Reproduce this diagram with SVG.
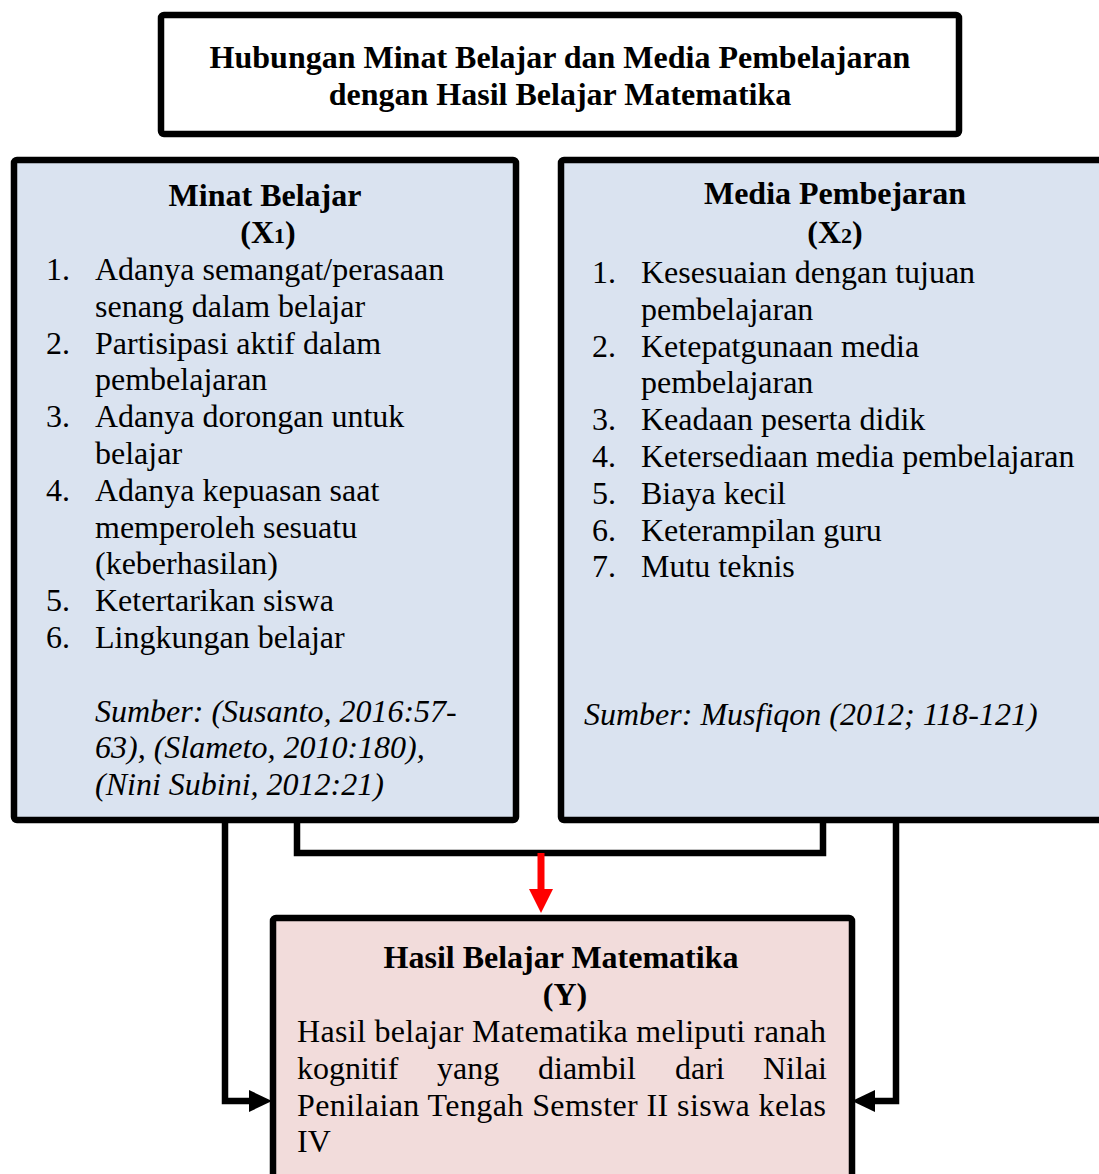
<svg xmlns="http://www.w3.org/2000/svg" width="1099" height="1174" viewBox="0 0 1099 1174">
<style>
.box{stroke:#000;stroke-width:6.5;stroke-linejoin:round}
.t{font-family:"Liberation Serif","Times New Roman",serif;font-size:32px;fill:#000}
.b{font-weight:bold}
.i{font-style:italic}
.c{text-anchor:middle}
.con{fill:none;stroke:#000;stroke-width:6.5;stroke-linejoin:miter}
</style>
<defs>
<marker id="ah" markerUnits="userSpaceOnUse" markerWidth="26" markerHeight="26" refX="0" refY="12" orient="auto" viewBox="0 0 26 24">
<path d="M0,1 L23,12 L0,23 z" fill="#000"/>
</marker>
<marker id="ahr" markerUnits="userSpaceOnUse" markerWidth="26" markerHeight="26" refX="0" refY="12" orient="auto" viewBox="0 0 26 24">
<path d="M0,0 L24,12 L0,24 z" fill="#ff0000"/>
</marker>
</defs>
<rect width="1099" height="1174" fill="#fff"/>
<g id="connectors">
<path class="con" d="M297,817 V853 H823 V817"/>
<path d="M541,853 V889" fill="none" stroke="#ff0000" stroke-width="7" marker-end="url(#ahr)"/>
<path class="con" d="M225,817 V1101 H249" marker-end="url(#ah)"/>
<path class="con" d="M896,817 V1101 H875" marker-end="url(#ah)"/>
</g>
<g id="title">
<rect class="box" x="161" y="15" width="798" height="119" rx="3" fill="#fff"/>
<text class="t b c" x="560" y="68">Hubungan Minat Belajar dan Media Pembelajaran</text>
<text class="t b c" x="560" y="105">dengan Hasil Belajar Matematika</text>
</g>
<g id="minat-belajar">
<rect class="box" x="14" y="160" width="502" height="660" rx="3" fill="#dae3f0"/>
<text class="t b c" x="265" y="206">Minat Belajar</text>
<text class="t b c" x="268" y="243">(X<tspan font-size="22">1</tspan>)</text>
<text class="t" x="46" y="280">1.</text><text class="t" x="95" y="280">Adanya semangat/perasaan</text>
<text class="t" x="95" y="316.8">senang dalam belajar</text>
<text class="t" x="46" y="353.6">2.</text><text class="t" x="95" y="353.6">Partisipasi aktif dalam</text>
<text class="t" x="95" y="390.4">pembelajaran</text>
<text class="t" x="46" y="427.2">3.</text><text class="t" x="95" y="427.2">Adanya dorongan untuk</text>
<text class="t" x="95" y="464">belajar</text>
<text class="t" x="46" y="500.8">4.</text><text class="t" x="95" y="500.8">Adanya kepuasan saat</text>
<text class="t" x="95" y="537.6">memperoleh sesuatu</text>
<text class="t" x="95" y="574.4">(keberhasilan)</text>
<text class="t" x="46" y="611.2">5.</text><text class="t" x="95" y="611.2">Ketertarikan siswa</text>
<text class="t" x="46" y="648">6.</text><text class="t" x="95" y="648">Lingkungan belajar</text>
<text class="t i" x="95" y="721.6">Sumber: (Susanto, 2016:57-</text>
<text class="t i" x="95" y="758.4">63), (Slameto, 2010:180),</text>
<text class="t i" x="95" y="795.2">(Nini Subini, 2012:21)</text>
</g>
<g id="media-pembelajaran">
<rect class="box" x="561" y="160" width="600" height="660" rx="3" fill="#dae3f0"/>
<text class="t b c" x="835" y="204">Media Pembejaran</text>
<text class="t b c" x="835" y="243">(X<tspan font-size="22">2</tspan>)</text>
<text class="t" x="592" y="283">1.</text><text class="t" x="641" y="283">Kesesuaian dengan tujuan</text>
<text class="t" x="641" y="319.8">pembelajaran</text>
<text class="t" x="592" y="356.6">2.</text><text class="t" x="641" y="356.6">Ketepatgunaan media</text>
<text class="t" x="641" y="393.4">pembelajaran</text>
<text class="t" x="592" y="430.2">3.</text><text class="t" x="641" y="430.2">Keadaan peserta didik</text>
<text class="t" x="592" y="467">4.</text><text class="t" x="641" y="467">Ketersediaan media pembelajaran</text>
<text class="t" x="592" y="503.8">5.</text><text class="t" x="641" y="503.8">Biaya kecil</text>
<text class="t" x="592" y="540.6">6.</text><text class="t" x="641" y="540.6">Keterampilan guru</text>
<text class="t" x="592" y="577.4">7.</text><text class="t" x="641" y="577.4">Mutu teknis</text>
<text class="t i" x="584" y="725">Sumber: Musfiqon (2012; 118-121)</text>
</g>
<g id="hasil-belajar">
<rect class="box" x="273" y="918" width="579" height="300" rx="3" fill="#f2dcdb"/>
<text class="t b c" x="561" y="968">Hasil Belajar Matematika</text>
<text class="t b c" x="565" y="1005">(Y)</text>
<text class="t" x="297" y="1042" textLength="529" lengthAdjust="spacing">Hasil belajar Matematika meliputi ranah</text>
<text class="t" y="1079"><tspan x="297">kognitif</tspan><tspan x="437">yang</tspan><tspan x="538">diambil</tspan><tspan x="675">dari</tspan><tspan x="763">Nilai</tspan></text>
<text class="t" x="297" y="1116" textLength="529" lengthAdjust="spacing">Penilaian Tengah Semster II siswa kelas</text>
<text class="t" x="297" y="1152">IV</text>
</g>
</svg>
